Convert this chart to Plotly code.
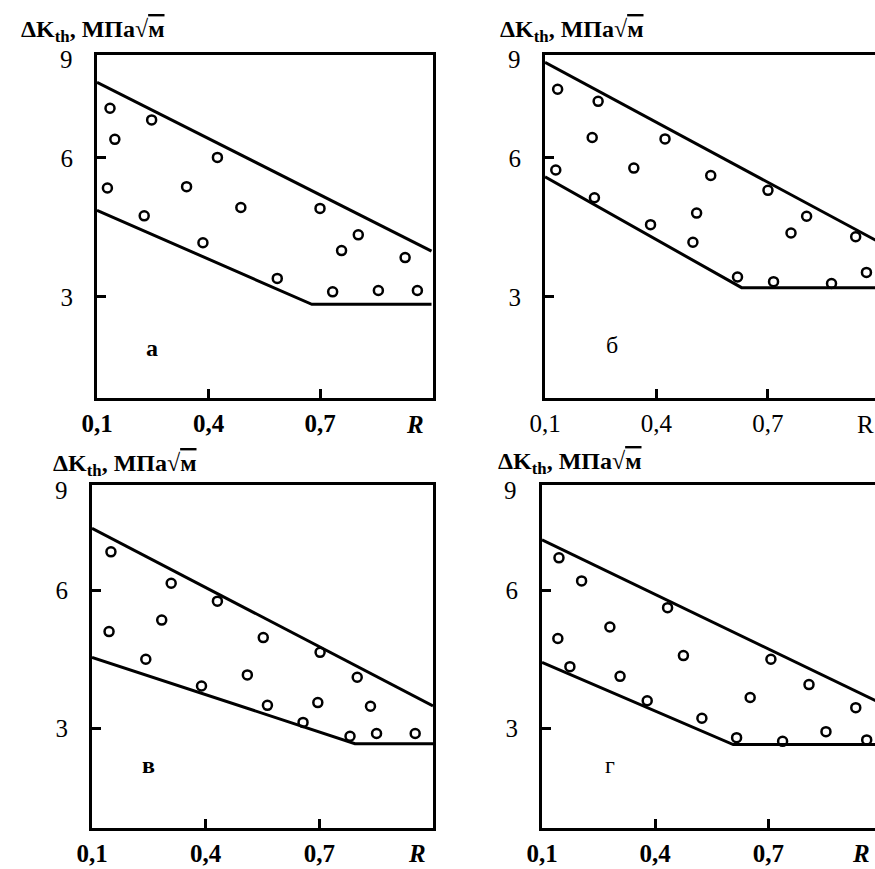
import plotly.graph_objects as go

W, H = 875, 869

# ---------------- data ----------------
a_R = [0.135, 0.247, 0.148, 0.424, 0.128, 0.341, 0.227, 0.487, 0.385, 0.700,
       0.803, 0.758, 0.585, 0.929, 0.734, 0.857, 0.962]
a_K = [7.07, 6.82, 6.40, 6.01, 5.35, 5.38, 4.75, 4.93, 4.17, 4.91,
       4.34, 4.00, 3.40, 3.85, 3.11, 3.14, 3.14]
a_up_R = [0.1, 1.0]
a_up_K = [7.63, 3.99]
a_lo_R = [0.1, 0.678, 1.0]
a_lo_K = [4.87, 2.84, 2.84]

b_R = [0.134, 0.243, 0.227, 0.423, 0.129, 0.339, 0.546, 0.700, 0.233, 0.508,
       0.804, 0.384, 0.762, 0.498, 0.936, 0.618, 0.715, 0.871, 0.965]
b_K = [7.48, 7.22, 6.44, 6.41, 5.74, 5.78, 5.62, 5.30, 5.14, 4.81,
       4.74, 4.56, 4.38, 4.18, 4.30, 3.43, 3.33, 3.29, 3.53]
b_up_R = [0.1, 1.0]
b_up_K = [8.06, 4.18]
b_lo_R = [0.1, 0.629, 1.0]
b_lo_K = [5.59, 3.20, 3.20]

c_R = [0.150, 0.309, 0.431, 0.145, 0.284, 0.552, 0.702, 0.242, 0.510, 0.800,
       0.389, 0.563, 0.696, 0.835, 0.657, 0.781, 0.851, 0.953]
c_K = [6.83, 6.15, 5.76, 5.10, 5.35, 4.97, 4.65, 4.50, 4.16, 4.11,
       3.92, 3.50, 3.56, 3.48, 3.13, 2.83, 2.89, 2.89]
c_up_R = [0.1, 1.0]
c_up_K = [7.34, 3.49]
c_lo_R = [0.1, 0.794, 1.0]
c_lo_K = [4.54, 2.67, 2.67]

d_R = [0.145, 0.205, 0.433, 0.280, 0.142, 0.475, 0.707, 0.174, 0.307, 0.808,
       0.379, 0.652, 0.932, 0.524, 0.616, 0.853, 0.738, 0.961]
d_K = [6.70, 6.20, 5.62, 5.20, 4.95, 4.58, 4.50, 4.34, 4.13, 3.95,
       3.60, 3.67, 3.45, 3.22, 2.80, 2.93, 2.72, 2.75]
d_up_R = [0.1, 1.0]
d_up_K = [7.09, 3.54]
d_lo_R = [0.1, 0.607, 1.0]
d_lo_K = [4.43, 2.65, 2.65]

x_ticks = [0.1, 0.4, 0.7]
x_tick_text = ["0,1", "0,4", "0,7"]
y_ticks = [3, 6]
y_tick_text = ["3", "6"]
top_label = "9"
x_title = "R"
y_title = "ΔK<sub>th</sub>, МПа√<span style='text-decoration:overline'>м</span>"
panel_letters = ["а", "б", "в", "г"]

# ---------------- layout geometry (pixels) ----------------
panels = [
    dict(R=a_R, K=a_K, up=(a_up_R, a_up_K), lo=(a_lo_R, a_lo_K),
         box=(97, 433, 55, 398), xr=[0.1, 1.004], yr=[0.82, 8.22], right=True,
         xbold=True, title=(93, 31), letter=(152, 348), lbold=True, rpos=(415, 425)),
    dict(R=b_R, K=b_K, up=(b_up_R, b_up_K), lo=(b_lo_R, b_lo_K),
         box=(545, 875, 55, 398), xr=[0.1, 0.988], yr=[0.82, 8.22], right=False,
         xbold=False, title=(572, 31), letter=(612, 345), lbold=False, rpos=(865, 425)),
    dict(R=c_R, K=c_K, up=(c_up_R, c_up_K), lo=(c_lo_R, c_lo_K),
         box=(92, 433, 485, 828), xr=[0.1, 1.0], yr=[0.84, 8.28], right=True,
         xbold=True, title=(125, 465), letter=(148, 765), lbold=True, rpos=(417, 853)),
    dict(R=d_R, K=d_K, up=(d_up_R, d_up_K), lo=(d_lo_R, d_lo_K),
         box=(542, 875, 485, 828), xr=[0.1, 0.983], yr=[0.84, 8.28], right=False,
         xbold=True, title=(570, 463), letter=(610, 765), lbold=False, rpos=(861, 853)),
]

FONT = "Liberation Serif"
fig = go.Figure()
annotations = []
layout = {}

for i, p in enumerate(panels):
    n = "" if i == 0 else str(i + 1)
    xa, ya = "x" + n, "y" + n
    for (lx, ly) in (p["up"], p["lo"]):
        fig.add_trace(go.Scatter(x=lx, y=ly, mode="lines", xaxis=xa, yaxis=ya,
                                 line=dict(color="black", width=3), showlegend=False,
                                 hoverinfo="skip"))
    fig.add_trace(go.Scatter(x=p["R"], y=p["K"], mode="markers", xaxis=xa, yaxis=ya,
                             marker=dict(symbol="circle-open", size=9, color="black",
                                         line=dict(width=2.5, color="black")),
                             showlegend=False))
    l, r, t, b = p["box"]
    xtf = "<b>%s</b>" if p["xbold"] else "%s"
    layout["xaxis" + n] = dict(
        domain=[l / W, r / W], range=p["xr"], anchor=ya, automargin=False,
        showline=True, linewidth=3, linecolor="black", mirror=True,
        ticks="inside", ticklen=9, tickwidth=2.5, tickcolor="black",
        tickvals=x_ticks, ticktext=[xtf % s for s in x_tick_text],
        tickfont=dict(family=FONT, size=25, color="black"),
        ticklabelstandoff=1,
        showgrid=False, zeroline=False, fixedrange=True)
    layout["yaxis" + n] = dict(
        domain=[1 - b / H, 1 - t / H], range=p["yr"], anchor=xa, automargin=False,
        showline=True, linewidth=3, linecolor="black", mirror=p["right"],
        ticks="inside", ticklen=9, tickwidth=2.5, tickcolor="black",
        tickvals=y_ticks, ticktext=y_tick_text,
        tickfont=dict(family=FONT, size=25, color="black"),
        ticklabelstandoff=16,
        showgrid=False, zeroline=False, fixedrange=True)
    # "9" label at the top of the y axis
    annotations.append(dict(text=top_label, xref="paper", yref="paper",
                            x=(l - 31) / W, y=1 - (t + 5) / H, showarrow=False,
                            xanchor="center", yanchor="middle",
                            font=dict(family=FONT, size=25, color="black")))
    # y-axis title above the panel
    tx, ty = p["title"]
    annotations.append(dict(text="<b>" + y_title + "</b>", xref="paper", yref="paper",
                            x=tx / W, y=1 - ty / H, showarrow=False,
                            xanchor="center", yanchor="middle",
                            font=dict(family=FONT, size=24, color="black")))
    # x-axis title "R"
    rx, ry = p["rpos"]
    rtxt = "<b><i>%s</i></b>" % x_title if p["xbold"] else x_title
    annotations.append(dict(text=rtxt, xref="paper", yref="paper",
                            x=rx / W, y=1 - ry / H, showarrow=False,
                            xanchor="center", yanchor="middle",
                            font=dict(family=FONT, size=25, color="black")))
    # panel letter
    px_, py_ = p["letter"]
    ltxt = "<b>%s</b>" % panel_letters[i] if p["lbold"] else panel_letters[i]
    annotations.append(dict(text=ltxt, xref="paper", yref="paper",
                            x=px_ / W, y=1 - py_ / H, showarrow=False,
                            xanchor="center", yanchor="middle",
                            font=dict(family=FONT, size=24, color="black")))

fig.update_layout(**layout)
fig.update_layout(width=W, height=H, margin=dict(l=0, r=0, t=0, b=0, autoexpand=False),
                  paper_bgcolor="white", plot_bgcolor="white",
                  annotations=annotations, showlegend=False)
fig.write_html("out.html", config={"displayModeBar": False},
               post_script="document.body.style.margin='0';"
                           "document.body.style.overflow='hidden';")
